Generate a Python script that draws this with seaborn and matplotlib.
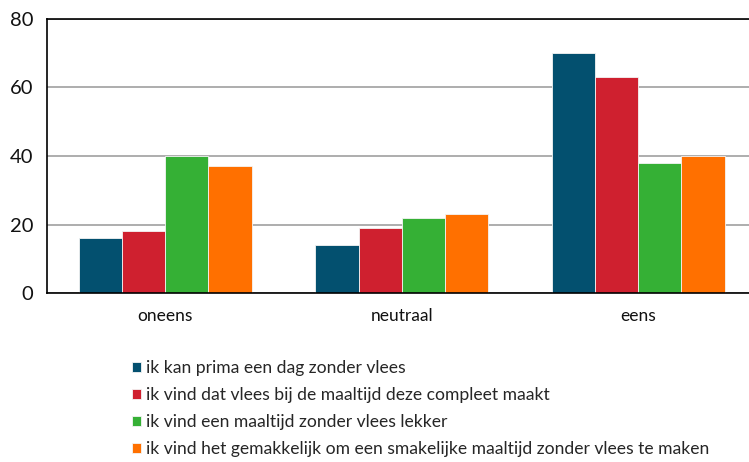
import matplotlib
matplotlib.use('Agg')
import matplotlib.pyplot as plt
import pandas as pd
import seaborn as sns

# ===== data =====
categories = ['oneens', 'neutraal', 'eens']
series = ['ik kan prima een dag zonder vlees',
          'ik vind dat vlees bij de maaltijd deze compleet maakt',
          'ik vind een maaltijd zonder vlees lekker',
          'ik vind het gemakkelijk om een smakelijke maaltijd zonder vlees te maken']
dag_zonder = [16, 14, 70]
compleet = [18, 19, 63]
lekker = [40, 22, 38]
gemakkelijk = [37, 23, 40]
colors = ['#03506f', '#cf202f', '#35b035', '#ff7000']

rows = []
for s, vals in zip(series, [dag_zonder, compleet, lekker, gemakkelijk]):
    for c, v in zip(categories, vals):
        rows.append({'cat': c, 'serie': s, 'waarde': v})
df = pd.DataFrame(rows)

sns.set_style('white')
plt.rcParams['font.family'] = ['Lato', 'DejaVu Sans']

fig = plt.figure(figsize=(7.49, 4.62), dpi=100)
ax = fig.add_axes([47/749, 169/462, 709.5/749, 274/462])

sns.barplot(data=df, x='cat', y='waarde', hue='serie', order=categories,
            hue_order=series, palette=colors, width=0.73, saturation=1,
            edgecolor='#f4f4f4', linewidth=0.6, ax=ax, legend=True)

ax.set_ylim(0, 80)
ax.set_xlim(-0.5, 2.5)
ax.set_yticks([0, 20, 40, 60, 80])
ax.yaxis.grid(True, color='#a0a0a0', linewidth=1.2)
ax.set_axisbelow(True)
ax.set_xlabel('')
ax.set_ylabel('')

for side in ['left', 'bottom', 'top']:
    ax.spines[side].set_visible(True)
    ax.spines[side].set_color('black')
    ax.spines[side].set_linewidth(1.2)
ax.spines['right'].set_visible(False)

# scheidingsstreepjes tussen categorieen
ax.set_xticks([0.5, 1.5], minor=True)
ax.tick_params(axis='x', which='minor', length=5, width=1, color='#333333', direction='out')
ax.tick_params(axis='x', which='major', length=0, pad=11, labelsize=12.5, labelcolor='#111111')
ax.tick_params(axis='y', length=6, width=1, direction='out', labelsize=14.5, labelcolor='#111111', pad=4)

handles, labels = ax.get_legend_handles_labels()
ax.get_legend().remove()
fig.legend(handles, labels, loc='upper left', bbox_to_anchor=(116/749, 1 - 344/462),
           frameon=False, handlelength=0.5, handleheight=0.5, handletextpad=0.3,
           labelspacing=0.64, fontsize=12.6)

fig.savefig('out.png', dpi=100)
